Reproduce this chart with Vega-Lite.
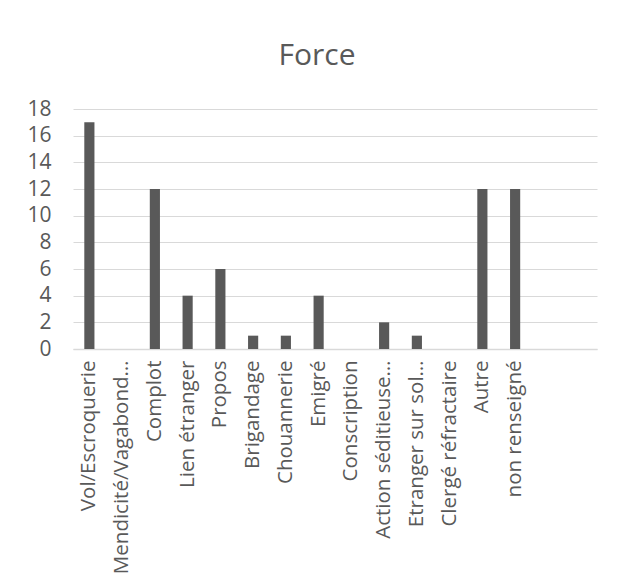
{
  "$schema": "https://vega.github.io/schema/vega-lite/v6.json",
  "width": 524,
  "height": 240,
  "autosize": {"type": "none"},
  "padding": {"left": 73, "top": 109, "right": 27, "bottom": 236},
  "background": "white",
  "title": {
    "text": "Force",
    "font": "Open Sans",
    "fontSize": 30,
    "fontWeight": "normal",
    "color": "#595959",
    "anchor": "middle",
    "baseline": "alphabetic",
    "dx": -18,
    "offset": 3
  },
  "data": {
    "values": [
      {"categorie": "Vol/Escroquerie", "n": 17},
      {"categorie": "Mendicité/Vagabond…", "n": 0},
      {"categorie": "Complot", "n": 12},
      {"categorie": "Lien étranger", "n": 4},
      {"categorie": "Propos", "n": 6},
      {"categorie": "Brigandage", "n": 1},
      {"categorie": "Chouannerie", "n": 1},
      {"categorie": "Emigré", "n": 4},
      {"categorie": "Conscription", "n": 0},
      {"categorie": "Action séditieuse…", "n": 2},
      {"categorie": "Etranger sur sol…", "n": 1},
      {"categorie": "Clergé réfractaire", "n": 0},
      {"categorie": "Autre", "n": 12},
      {"categorie": "non renseigné", "n": 12}
    ]
  },
  "mark": {"type": "bar", "color": "#595959"},
  "encoding": {
    "x": {
      "field": "categorie",
      "type": "nominal",
      "sort": null,
      "scale": {
        "domain": ["Vol/Escroquerie", "Mendicité/Vagabond…", "Complot", "Lien étranger", "Propos", "Brigandage", "Chouannerie", "Emigré", "Conscription", "Action séditieuse…", "Etranger sur sol…", "Clergé réfractaire", "Autre", "non renseigné", "_vide1", "_vide2"],
        "paddingInner": 0.69,
        "paddingOuter": 0.345
      },
      "axis": {
        "title": null,
        "labelAngle": -90,
        "labelAlign": "right",
        "labelBaseline": "middle",
        "labelExpr": "indexof(datum.value, '_vide') === 0 ? '' : datum.value",
        "labelFont": "Open Sans",
        "labelFontSize": 20.5,
        "labelColor": "#595959",
        "labelPadding": 11,
        "labelLimit": 300,
        "labelOverlap": false,
        "ticks": false,
        "domainColor": "#d9d9d9",
        "domainWidth": 1.5
      }
    },
    "y": {
      "field": "n",
      "type": "quantitative",
      "scale": {"domain": [0, 18], "nice": false},
      "axis": {
        "title": null,
        "values": [0, 2, 4, 6, 8, 10, 12, 14, 16, 18],
        "labelFont": "Open Sans",
        "labelFontSize": 21,
        "labelColor": "#595959",
        "labelPadding": 22,
        "ticks": false,
        "domain": false,
        "gridColor": "#d9d9d9",
        "gridWidth": 1.2
      }
    }
  },
  "config": {"view": {"stroke": null}}
}
